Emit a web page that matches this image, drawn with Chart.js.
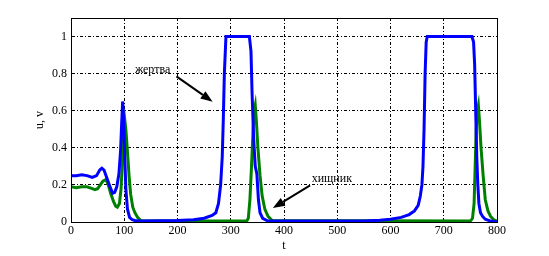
<!DOCTYPE html>
<html>
<head>
<meta charset="utf-8">
<script src="https://cdn.jsdelivr.net/npm/chart.js@4.4.1/dist/chart.umd.min.js"></script>
<style>
  html, body { margin: 0; padding: 0; background: #fff; }
  #wrap { width: 549px; height: 256px; position: relative; }
</style>
</head>
<body>
<div id="wrap"><canvas id="grafico"></canvas></div>
<script>
// жертва (u)
const tU = [0,10,20,30,40,48,54,58,62,67,72,78,82,86,90,93,95,97,99,101,103,106,110,115,120,130,200,230,250,265,272,277,281,284,286,288,291,300,320,335,338,340,343,346,349,352,355,360,370,550,580,600,620,635,645,652,656,659,661,663,665,667,669,700,740,753,756,758,760,762,764,766,769,773,778,788,800];
const uVals = [0.25,0.25,0.255,0.25,0.24,0.25,0.28,0.29,0.28,0.24,0.2,0.155,0.16,0.19,0.26,0.38,0.52,0.65,0.55,0.35,0.18,0.07,0.025,0.012,0.008,0.006,0.008,0.012,0.02,0.035,0.05,0.1,0.2,0.35,0.55,0.8,1.0,1.0,1.0,1.0,0.92,0.7,0.45,0.3,0.26,0.12,0.05,0.02,0.005,0.005,0.01,0.015,0.025,0.04,0.06,0.09,0.14,0.2,0.3,0.5,0.8,0.97,1.0,1.0,1.0,1.0,0.97,0.85,0.6,0.35,0.2,0.1,0.05,0.03,0.015,0.005,0];

// хищник (v)
const tV = [0,10,20,30,40,45,50,55,60,66,70,75,80,84,87,91,94,97,99,101,103,106,109,112,116,120,125,130,135,330,333,336,339,342,344,346,348,351,355,359,364,370,378,750,754,757,759,761,763,765,767,770,774,778,783,788,794,800];
const vVals = [0.19,0.185,0.19,0.19,0.18,0.175,0.18,0.2,0.22,0.23,0.2,0.15,0.11,0.085,0.08,0.1,0.18,0.35,0.5,0.55,0.5,0.38,0.25,0.15,0.08,0.05,0.025,0.01,0.005,0.005,0.02,0.12,0.3,0.5,0.6,0.63,0.55,0.4,0.25,0.14,0.07,0.03,0.008,0.005,0.02,0.1,0.3,0.5,0.6,0.63,0.55,0.4,0.25,0.12,0.06,0.03,0.012,0.005];

const xTicks = [0,100,200,300,400,500,600,700,800];
const yTicks = [0,0.2,0.4,0.6,0.8,1];

// подписи со стрелками, в координатах данных
const notas = [
  { texto: 'жертва', tx: 120, ty: 0.82, de: [198, 0.785], para: [266, 0.648] },
  { texto: 'хищник', tx: 452, ty: 0.235, de: [449, 0.197], para: [379, 0.075] }
];

const familia = '"Liberation Serif", "Times New Roman", serif';
const traco = [3, 2, 1, 2];

const molduraPlugin = {
  id: 'moldura',
  afterDraw(chart) {
    const ctx = chart.ctx;
    const a = chart.chartArea;
    const sx = chart.scales.x, sy = chart.scales.y;
    ctx.save();
    ctx.strokeStyle = '#000';
    ctx.lineWidth = 1;
    ctx.setLineDash([]);
    ctx.strokeRect(Math.round(a.left) + 0.5, Math.round(a.top) + 0.5,
      Math.round(a.right - a.left), Math.round(a.bottom - a.top));

    ctx.fillStyle = '#000';
    ctx.font = '12px ' + familia;
    // rótulos dos eixos
    ctx.textAlign = 'center';
    ctx.textBaseline = 'middle';
    ctx.fillText('t', (a.left + a.right) / 2, 246);
    ctx.save();
    ctx.translate(40, (a.top + a.bottom) / 2);
    ctx.rotate(-Math.PI / 2);
    ctx.fillText('u, v', 0, 0);
    ctx.restore();

    // anotações
    notas.forEach(n => {
      ctx.textAlign = 'left';
      ctx.textBaseline = 'middle';
      ctx.fillText(n.texto, sx.getPixelForValue(n.tx), sy.getPixelForValue(n.ty));
      const x1 = sx.getPixelForValue(n.de[0]), y1 = sy.getPixelForValue(n.de[1]);
      const x2 = sx.getPixelForValue(n.para[0]), y2 = sy.getPixelForValue(n.para[1]);
      const ang = Math.atan2(y2 - y1, x2 - x1);
      const L = 12, W = 4.5;
      const bx = x2 - L * Math.cos(ang), by = y2 - L * Math.sin(ang);
      ctx.lineWidth = 2;
      ctx.beginPath();
      ctx.moveTo(x1, y1);
      ctx.lineTo(bx, by);
      ctx.stroke();
      ctx.beginPath();
      ctx.moveTo(x2, y2);
      ctx.lineTo(bx + W * Math.sin(ang), by - W * Math.cos(ang));
      ctx.lineTo(bx - W * Math.sin(ang), by + W * Math.cos(ang));
      ctx.closePath();
      ctx.fill();
    });
    ctx.restore();
  }
};

new Chart(document.getElementById('grafico'), {
  type: 'line',
  data: {
    datasets: [
      {
        label: 'u',
        data: tU.map((t, i) => ({ x: t, y: uVals[i] })),
        borderColor: '#0000ff',
        borderWidth: 3,
        pointRadius: 0,
        tension: 0,
        fill: false
      },
      {
        label: 'v',
        data: tV.map((t, i) => ({ x: t, y: vVals[i] })),
        borderColor: '#008000',
        borderWidth: 3,
        pointRadius: 0,
        tension: 0,
        fill: false
      }
    ]
  },
  options: {
    responsive: true,
    maintainAspectRatio: false,
    animation: false,
    layout: { padding: { left: 0, top: 18, right: 52, bottom: 0 } },
    plugins: { legend: { display: false }, tooltip: { enabled: false } },
    scales: {
      x: {
        type: 'linear',
        min: 0,
        max: 800,
        afterBuildTicks: s => { s.ticks = xTicks.map(v => ({ value: v })); },
        afterFit: s => { s.height = 34; },
        ticks: {
          color: '#000',
          font: { family: familia, size: 12 },
          padding: 2,
          maxRotation: 0
        },
        grid: { color: '#000', lineWidth: 1, drawTicks: false },
        border: { display: true, color: '#000', dash: traco }
      },
      y: {
        min: 0,
        max: 1.1,
        afterBuildTicks: s => { s.ticks = yTicks.map(v => ({ value: v })); },
        afterFit: s => { s.width = 71; },
        ticks: {
          color: '#000',
          font: { family: familia, size: 12 },
          padding: 4,
          callback: v => String(v)
        },
        grid: { color: '#000', lineWidth: 1, drawTicks: false },
        border: { display: true, color: '#000', dash: traco }
      }
    }
  },
  plugins: [molduraPlugin]
});
</script>
</body>
</html>
